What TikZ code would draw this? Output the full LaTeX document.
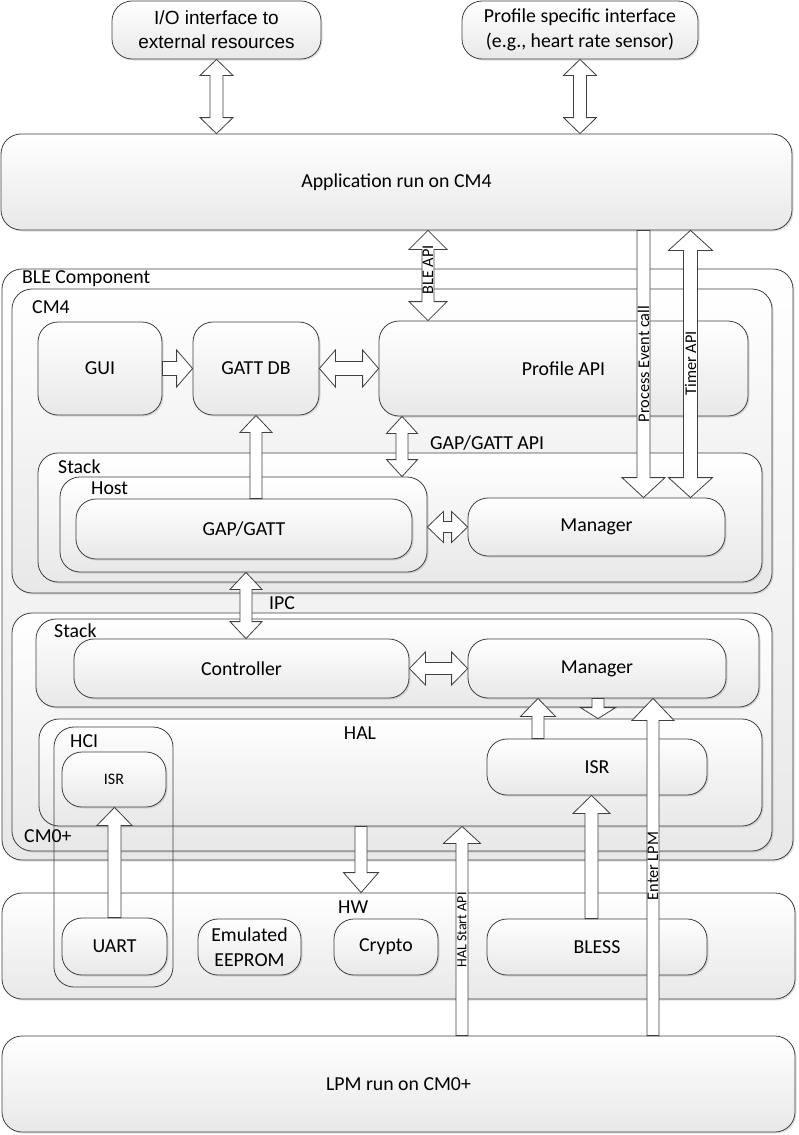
\documentclass[tikz,border=0pt]{standalone}
\usepackage{fontspec}
\setmainfont{Carlito}
\newfontfamily\arialfont{Liberation Sans}
\usetikzlibrary{calc,shadows}
\newcommand{\fmain}{\fontsize{19.8}{24.5}\selectfont}
\newcommand{\farrow}{\fontsize{16.3}{18}\selectfont}
\newcommand{\fsmall}{\fontsize{14}{16}\selectfont}
\tikzset{
  shaft/.store in=\shaftw, headw/.store in=\headw, headl/.store in=\headl,
  shaft=6.5pt, headw=17pt, headl=17pt,
  box/.style={draw=black!75, line width=0.8pt, rounded corners=20pt,
    top color=white, bottom color=black!9,
    drop shadow={shadow xshift=1.5pt, shadow yshift=-1.5pt, opacity=0.25},
    inner sep=0pt, align=center, font=\fmain},
  frame/.style={draw=black!75, line width=0.8pt, rounded corners=20pt, inner sep=0pt},
  lbl/.style={anchor=west, inner sep=0pt, font=\fmain},
  blockarrow/.style={draw=black!75, line width=0.8pt, fill=white, line join=miter},
  alabel/.style={rotate=90, inner sep=0pt, font=\farrow},
}
% single block arrow from #2 to #3
\newcommand{\sarr}[3][]{\begin{scope}[#1]
  \path (#2) coordinate (ba) (#3) coordinate (bb);
  \path ($(bb)!\headl!(ba)$) coordinate (bc);
  \draw[blockarrow] (ba) -- ($(ba)!\shaftw!90:(bb)$) -- ($(bc)!\shaftw!90:(bb)$)
    -- ($(bc)!\headw!90:(bb)$) -- (bb) -- ($(bc)!\headw!-90:(bb)$)
    -- ($(bc)!\shaftw!-90:(bb)$) -- ($(ba)!\shaftw!-90:(bb)$) -- cycle;
\end{scope}}
% double block arrow between #2 and #3
\newcommand{\darr}[3][]{\begin{scope}[#1]
  \path (#2) coordinate (ba) (#3) coordinate (bb);
  \path ($(bb)!\headl!(ba)$) coordinate (bc) ($(ba)!\headl!(bb)$) coordinate (bd);
  \draw[blockarrow] (ba) -- ($(bd)!\headw!90:(bb)$) -- ($(bd)!\shaftw!90:(bb)$)
    -- ($(bc)!\shaftw!90:(bb)$) -- ($(bc)!\headw!90:(bb)$) -- (bb)
    -- ($(bc)!\headw!-90:(bb)$) -- ($(bc)!\shaftw!-90:(bb)$)
    -- ($(bd)!\shaftw!-90:(bb)$) -- ($(bd)!\headw!-90:(bb)$) -- cycle;
\end{scope}}
\begin{document}
\begin{tikzpicture}[x=1pt,y=-1pt]
  \useasboundingbox (0,0) rectangle (798,1135);
  % top level
  \node[box, font=\arialfont\fontsize{19}{24}\selectfont, minimum width=209, minimum height=58] (io) at (216.5,30) {I/O interface to\\external resources};
  \node[box, minimum width=236, minimum height=58] (prof) at (580,30) {Profile specific interface\\(e.g., heart rate sensor)};
  \node[box, minimum width=791, minimum height=96] (app) at (396.5,182) {Application run on CM4};
  % BLE component, CM4 part
  \node[box, minimum width=791, minimum height=591] (ble) at (397.5,564.5) {};
  \node[box, minimum width=760, minimum height=304] (cm4) at (392,441) {};
  \node[box, minimum width=124, minimum height=93] (gui) at (100,368.5) {GUI};
  \node[box, minimum width=126, minimum height=93] (gattdb) at (256,368.5) {GATT DB};
  \node[box, minimum width=369, minimum height=95] (profapi) at (563.5,368.5) {Profile API};
  \node[box, minimum width=724, minimum height=129] (stackh) at (400,517.5) {};
  \node[box, minimum width=367, minimum height=95] (host) at (243.5,524.5) {};
  \node[box, minimum width=336, minimum height=60] (gapgatt) at (244,529) {GAP/GATT};
  \node[box, minimum width=257, minimum height=58] (mgrh) at (596.5,527) {Manager};
  % CM0+ part
  \node[box, minimum width=760, minimum height=238] (cm0) at (392,732) {};
  \node[box, minimum width=723, minimum height=88] (stackc) at (397.5,663) {};
  \node[box, minimum width=335, minimum height=59] (ctrl) at (241.5,668.5) {Controller};
  \node[box, minimum width=258, minimum height=59] (mgrc) at (597,668.5) {Manager};
  \node[box, minimum width=723, minimum height=107] (hal) at (400.5,772.5) {};
  \node[box, font=\fontsize{16}{18}\selectfont, minimum width=104, minimum height=55] (isrh) at (114,779.5) {ISR};
  \node[box, minimum width=220, minimum height=56] (isr) at (597,767) {ISR};
  % hardware and LPM
  \node[box, minimum width=793, minimum height=106] (hw) at (398.5,946) {};
  \node[box, minimum width=105, minimum height=57] (uart) at (114.5,946.5) {UART};
  \node[box, minimum width=103, minimum height=56] (eeprom) at (249.5,947) {Emulated\\EEPROM};
  \node[box, minimum width=104, minimum height=56] (crypto) at (386,947) {Crypto};
  \node[box, minimum width=220, minimum height=56] (bless) at (597,947) {BLESS};
  \node[box, minimum width=793, minimum height=96] (lpm) at (398.5,1084) {LPM run on CM0+};
  \node[frame, minimum width=119, minimum height=260] (hci) at (113.5,857) {};
  % container labels
  \node[lbl] (blelbl) at (22,279) {BLE Component};
  \node[lbl] (cm4lbl) at (32,307) {CM4};
  \node[lbl] (stackhlbl) at (58,467) {Stack};
  \node[lbl] (hostlbl) at (91,488) {Host};
  \node[lbl] (gapapilbl) at (430,443) {GAP/GATT API};
  \node[lbl] (ipclbl) at (269,603) {IPC};
  \node[lbl] (stackclbl) at (54,631) {Stack};
  \node[lbl, anchor=center] (hallbl) at (360,733) {HAL};
  \node[lbl] (hcilbl) at (70,741) {HCI};
  \node[lbl] (cm0lbl) at (24,836) {CM0+};
  \node[lbl] (hwlbl) at (338,907) {HW};
  % block arrows
  \darr[headw=16.5pt, headl=16pt]{io.south}{io.south |- app.north}
  \darr[headw=16.5pt, headl=16pt]{prof.south}{prof.south |- app.north}
  \darr[shaft=6pt, headw=19pt, headl=19pt]{428,0 |- app.south}{428,0 |- profapi.north}
  \sarr[headw=21.5pt, headl=20pt]{643.5,0 |- app.south}{643.5,0 |- mgrh.north}
  \darr[shaft=7pt, headw=22pt, headl=20pt]{690.5,0 |- app.south}{690.5,0 |- mgrh.north}
  \sarr[shaft=7pt, headw=18.5pt, headl=16pt]{gui.east}{gattdb.west}
  \darr[shaft=7pt, headw=18.5pt, headl=16pt]{gattdb.east}{gattdb.east -| profapi.west}
  \sarr[shaft=6pt, headw=16pt]{gattdb.south |- gapgatt.north}{gattdb.south}
  \darr[shaft=6pt, headw=15.5pt]{402,0 |- profapi.south}{402,0 |- host.north}
  \darr[shaft=5.5pt, headw=15.5pt, headl=16pt]{host.east |- mgrh.west}{mgrh.west}
  \darr[shaft=6pt, headw=16pt]{246,0 |- host.south}{246,0 |- ctrl.north}
  \darr[shaft=6pt, headw=16.5pt, headl=16pt]{ctrl.east}{mgrc.west}
  \sarr[shaft=6pt, headw=17.5pt, headl=18pt]{538,0 |- isr.north}{538,0 |- mgrc.south}
  \sarr[shaft=6pt, headw=17.5pt, headl=11pt]{598,0 |- mgrc.south}{598,0 |- hal.north}
  \sarr[shaft=6pt, headw=21pt, headl=22pt]{653,0 |- lpm.north}{653,0 |- mgrc.south}
  \sarr[headw=17.5pt, headl=18pt]{uart.north}{uart.north |- isrh.south}
  \sarr[shaft=6pt, headw=17.5pt, headl=20pt]{361,0 |- hal.south}{361,0 |- hw.north}
  \sarr[shaft=6pt, headw=18.5pt]{462,0 |- lpm.north}{462,0 |- hal.south}
  \sarr[headw=18.5pt, headl=18pt]{591.5,0 |- bless.north}{591.5,0 |- isr.south}
  % arrow labels
  \node[alabel] (bleapi) at (428,270) {BLE API};
  \node[alabel] (evcall) at (643.5,364) {Process Event call};
  \node[alabel] (timer) at (690.5,363.5) {Timer API};
  \node[alabel] (enterlpm) at (653,866) {Enter LPM};
  \node[alabel, font=\fsmall] (halstart) at (462,930) {HAL Start API};
\end{tikzpicture}
\end{document}
